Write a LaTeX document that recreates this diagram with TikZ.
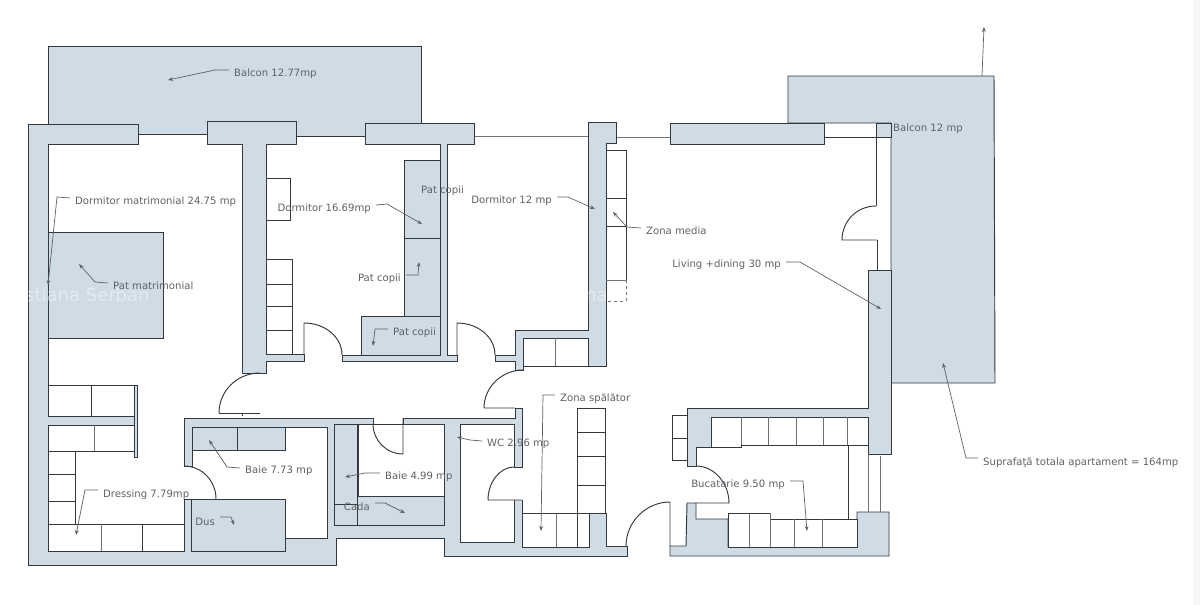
\documentclass[tikz,border=0pt]{standalone}
\usepackage{fontspec}
\setmainfont{DejaVu Sans}
\usetikzlibrary{arrows.meta}
\definecolor{wallblue}{HTML}{CFDCE6}
\definecolor{ink}{HTML}{33393F}
\definecolor{soft}{HTML}{6E7276}
\definecolor{labelgray}{HTML}{5E6266}
\definecolor{strip}{HTML}{F6F6F6}
\tikzset{
 wall/.style={fill=wallblue,draw=ink,line width=0.95pt,line join=miter},
 room/.style={fill=white,draw=ink,line width=0.95pt},
 cut/.style={fill=white,draw=none},
 ln/.style={draw=ink,line width=0.95pt},
 thin ln/.style={draw=soft,line width=0.85pt},
 doorleaf/.style={draw=ink,line width=0.95pt},
 lab/.style={anchor=west,inner sep=5pt,yshift=-1.5pt,text=labelgray,font=\fontsize{10.1}{12}\selectfont},
 lead/.style={draw=labelgray,line width=0.7pt,-{Stealth[length=5pt,width=3.8pt]}},
 wmark/.style={anchor=west,inner sep=0pt,text=white,opacity=0.4,font=\fontsize{18}{21}\selectfont}
}
\begin{document}
\begin{tikzpicture}[x=1pt,y=-1pt]
\useasboundingbox (0,0) rectangle (1200,605);
\fill[white] (0,0) rectangle (1200,605);
\fill[strip] (1193,0) rectangle (1200,605);

% balconies
\draw[wall] (48,124) -- (48,46) -- (421,46) -- (421,123) -- (365,123) -- (365,136) -- (296,136) -- (296,121) -- (207,121) -- (207,134) -- (138,134) -- (138,124) -- cycle;
\draw[wall] (788,123) -- (788,76) -- (994,76) -- (995,383) -- (891,383) -- (891,123) -- cycle;

% thin facade lines
\draw[thin ln] (474,136) -- (588,136);
\draw[thin ln] (616,137) -- (670,137);
\draw[ln] (824,137) -- (891,137);

% main wall (left, bottom, service core)
\draw[wall] (28,124) -- (138,124) -- (138,144) -- (48,144) -- (48,551) -- (184,551) -- (184,499) -- (285,499) -- (285,538) -- (327,538) -- (327,427) -- (192,427) -- (192,466) -- (184,466) -- (184,418) -- (373,418) -- (373,424) -- (403,424) -- (403,418) -- (515,418) -- (515,408) -- (522,408) -- (522,547) -- (589,547) -- (589,513) -- (606,513) -- (606,546) -- (627,546) -- (627,556) -- (444,556) -- (444,538) -- (336,538) -- (336,565) -- (28,565) -- cycle;

% inner T walls
\draw[wall] (207,121) -- (296,121) -- (296,144) -- (266,144) -- (266,354) -- (304,354) -- (304,361) -- (266,361) -- (266,373) -- (242,373) -- (242,144) -- (207,144) -- cycle;
\draw[wall] (365,123) -- (474,123) -- (474,144) -- (447,144) -- (447,355) -- (457,355) -- (457,361) -- (342,361) -- (342,355) -- (440,355) -- (440,144) -- (365,144) -- cycle;
\draw[wall] (588,122) -- (616,122) -- (616,143) -- (606,143) -- (606,366) -- (523,366) -- (523,370) -- (515,370) -- (515,361) -- (495,361) -- (495,355) -- (515,355) -- (515,330) -- (588,330) -- cycle;
\draw[wall] (670,123) rectangle (824,144);
\draw[wall] (876,123) rectangle (891,137);

% kitchen walls
\draw[wall] (687,408) -- (868,408) -- (868,270) -- (891,270) -- (891,454) -- (868,454) -- (868,417) -- (711,417) -- (711,447) -- (696,447) -- (696,466) -- (687,466) -- cycle;
\draw[wall] (687,503) -- (696,503) -- (696,519) -- (728,519) -- (728,547) -- (857,547) -- (857,512) -- (889,512) -- (889,556) -- (670,556) -- (670,546) -- (686,546) -- cycle;

% balcony door glazing lines
\draw[ln] (876,137) -- (876,206);
\draw[ln] (877,240) -- (877,270);
\draw[thin ln] (868,454) -- (868,512);
\draw[thin ln] (880,456) -- (880,512);

% bed and children's beds
\draw[wall] (48,232) rectangle (163,338);
\draw[wall] (404,160) rectangle (440,316);
\draw[ln] (404,238) -- (440,238);
\draw[wall] (361,316) rectangle (440,355);

% dormitor 16 closets
\draw[room] (266,178) rectangle (290,220);
\draw[room] (266,259) rectangle (292,354);
\draw[ln] (266,284) -- (292,284) (266,306) -- (292,306) (266,330) -- (292,330);

% dormitor 12 closet
\draw[room] (523,338) rectangle (588,366);
\draw[thin ln] (555,338) -- (555,366);

% media
\draw[ln] (606,150) -- (626,150) -- (626,280);
\draw[ln] (606,198) -- (626,198) (606,226) -- (626,226);
\draw[thin ln] (606,280) -- (626,280);
\draw[draw=soft,line width=0.6pt,dashed] (626,280) -- (626,301) -- (606,301);

% dressing
\draw[room] (48,385) rectangle (134,416);
\draw[ln] (91,385) -- (91,416);
\fill[wallblue] (48,416) rectangle (134,425);
\draw[wall] (134,385) rectangle (137.5,457);
\draw[room] (48,425) rectangle (134,451);
\draw[thin ln] (94,425) -- (94,451);
\draw[ln] (48,416) -- (134,416);
\draw[room] (48,451) rectangle (75,524);
\draw[ln] (48,474) -- (75,474);
\draw[ln] (48,501) -- (75,501);
\draw[room] (48,524) rectangle (184,551);
\draw[thin ln] (101,524) -- (101,551);
\draw[ln] (142,524) -- (142,551);

% baie 7.73
\draw[wall] (192,427) rectangle (285,450);
\draw[ln] (237,427) -- (237,450);
\draw[wall] (191,499) rectangle (285,551);

% baie 4.99
\draw[wall] (334,424) rectangle (444,525);
\draw[room] (358,424) rectangle (444,496);
\draw[ln] (357,424) -- (357,525);
\draw[ln] (334,504) -- (357,504);

% WC
\draw[room] (460,424) rectangle (514,542);
\fill[cut] (513.5,467.5) rectangle (523,499.5);
\draw[ln] (514,467) -- (522,467);

% spalator closets
\draw[room] (522,513) rectangle (589,547);
\draw[thin ln] (556,513) -- (556,547);
\draw[ln] (577,513) -- (577,547);
\draw[room] (577,408) rectangle (605,513);
\draw[ln] (577,432) -- (605,432) (577,456) -- (605,456) (577,485) -- (605,485);

% kitchen units
\draw[room] (672,415) rectangle (687,460);
\draw[ln] (672,438) -- (687,438);
\draw[room] (711,417) -- (868,417) -- (868,445) -- (741,445) -- (741,447) -- (711,447) -- cycle;
\draw[thin ln] (741,417) -- (741,445) (768,417) -- (768,445) (796,417) -- (796,445) (823,417) -- (823,445) (847,417) -- (847,445);
\draw[ln] (848,445) -- (848,519);
\draw[room] (728,513) -- (770,513) -- (770,519) -- (857,519) -- (857,547) -- (728,547) -- cycle;
\draw[thin ln] (749,513) -- (749,547) (770,513) -- (770,547) (794,519) -- (794,547) (822,519) -- (822,547);

% doors
\draw[doorleaf] (219,413) -- (260,413) (242,413) -- (242,416);
\draw[doorleaf] (260,373) .. controls (237,373) and (219,391) .. (219,413);
\draw[doorleaf] (304,354) -- (304,323) .. controls (325,323) and (342,337) .. (342,355);
\draw[doorleaf] (457,355) -- (457,323) .. controls (478,323) and (495,337) .. (495,355);
\draw[doorleaf] (523,370) .. controls (502,370) and (484,387) .. (484,408) -- (515,408);
\draw[doorleaf] (514,467) .. controls (500,467) and (488,482) .. (488,500) -- (522,500);
\draw[doorleaf] (670,546) -- (670,502) .. controls (646,502) and (626,522) .. (626,546);
\draw[doorleaf] (696,466) .. controls (714,466) and (729,483) .. (729,503) -- (696,503);
\draw[doorleaf] (184,466) .. controls (202,466) and (216,481) .. (216,499);
\draw[doorleaf] (373,424) .. controls (373,440) and (386,454) .. (403,454) -- (403,418);
\draw[doorleaf] (876,206) .. controls (857,206) and (842,221) .. (842,240) -- (877,240);

% watermark
\node[wmark] (wm1) at (25,295) {stiana Serban};
\node[wmark] (wm2) at (585,295) {na S};

% arrow tips
\coordinate (tipBalconA) at (168,80);
\coordinate (tipMat) at (48,285);
\coordinate (tipPat) at (79,264);
\coordinate (tipD16) at (422,224);
\coordinate (tipCopiiB) at (419,262);
\coordinate (tipCopiiC) at (373,346);
\coordinate (tipD12) at (595,209);
\coordinate (tipMedia) at (613,212);
\coordinate (tipLiving) at (881,309);
\coordinate (tipBalconB) at (984,27);
\coordinate (tailBalconB) at (982,76);
\coordinate (tipSup) at (943,363);
\coordinate (tipSpal) at (541,531);
\coordinate (tipWC) at (457,437);
\coordinate (tipB7) at (209,440);
\coordinate (tipB4) at (345,477);
\coordinate (tipCada) at (405,513);
\coordinate (tipDus) at (234,525);
\coordinate (tipDress) at (76,535);
\coordinate (tipBuc) at (807,531);

% labels
\node[lab] (lBalconA) at (229,72) {Balcon 12.77mp};
\node[lab] (lMat) at (70,200) {Dormitor matrimonial 24.75 mp};
\node[lab] (lPat) at (108,284) {Pat matrimonial};
\node[lab,anchor=east] (lD16) at (376,207) {Dormitor 16.69mp};
\node[lab] (lCopiiA) at (416,189) {Pat copii};
\node[lab,anchor=east] (lCopiiB) at (406,277) {Pat copii};
\node[lab] (lCopiiC) at (388,331) {Pat copii};
\node[lab,anchor=east] (lD12) at (557,199) {Dormitor 12 mp};
\node[lab] (lMedia) at (641,229) {Zona media};
\node[lab,anchor=east] (lLiving) at (786,263) {Living +dining 30 mp};
\node[lab] (lBalconB) at (888,127) {Balcon 12 mp};
\node[lab] (lSup) at (978,461) {Suprafaţă totala apartament = 164mp};
\node[lab] (lSpal) at (555,397) {Zona spălător};
\node[lab] (lWC) at (482,442) {WC 2.96 mp};
\node[lab] (lB7) at (240,469) {Baie 7.73 mp};
\node[lab] (lB4) at (380,475) {Baie 4.99 mp};
\node[lab,anchor=east] (lCada) at (375,505) {Cada};
\node[lab,anchor=east] (lDus) at (220,520) {Dus};
\node[lab] (lDress) at (98,493) {Dressing 7.79mp};
\node[lab,anchor=east] (lBuc) at (790,483) {Bucatarie 9.50 mp};

% leaders
\draw[lead] ([yshift=3.5pt]lBalconA.west) -- (215,70) -- (tipBalconA);
\draw[lead] ([yshift=3.5pt]lMat.west) -- (57,197) -- (tipMat);
\draw[lead] ([yshift=2.5pt]lPat.west) -- (95,282) -- (tipPat);
\draw[lead] ([yshift=3.5pt]lD16.east) -- (387,204) -- (tipD16);
\draw[lead] ([yshift=3.5pt]lCopiiB.east) -- (418,275) -- (tipCopiiB);
\draw[lead] ([yshift=3.5pt]lCopiiC.west) -- (375,329) -- (tipCopiiC);
\draw[lead] ([yshift=3.5pt]lD12.east) -- (568,197) -- (tipD12);
\draw[lead] ([yshift=2.5pt]lMedia.west) -- (627,227) -- (tipMedia);
\draw[lead] ([yshift=2.5pt]lLiving.east) -- (800,262) -- (tipLiving);
\draw[lead] (tailBalconB) -- (tipBalconB);
\draw[lead] ([yshift=4.5pt]lSup.west) -- (966,458) -- (tipSup);
\draw[lead] ([yshift=3.5pt]lSpal.west) -- (543,395) -- (tipSpal);
\draw[lead] ([yshift=2.5pt]lWC.west) -- (470,440) -- (tipWC);
\draw[lead] ([yshift=2.5pt]lB7.west) -- (227,467) -- (tipB7);
\draw[lead] ([yshift=3.5pt]lB4.west) -- (365,473) -- (tipB4);
\draw[lead] ([yshift=3.5pt]lCada.east) -- (385,503) -- (tipCada);
\draw[lead] ([yshift=4.5pt]lDus.east) -- (231,517) -- (tipDus);
\draw[lead] ([yshift=4.5pt]lDress.west) -- (85,490) -- (tipDress);
\draw[lead] ([yshift=3.5pt]lBuc.east) -- (803,481) -- (tipBuc);
\end{tikzpicture}
\end{document}
